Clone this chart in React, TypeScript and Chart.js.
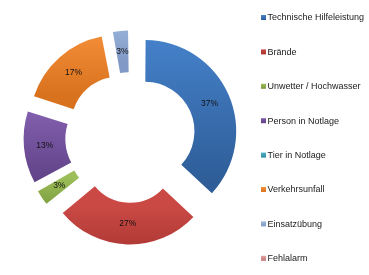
import React, { useEffect, useRef } from 'react';
import { Chart, registerables } from 'chart.js';

Chart.register(...registerables);

const categories = [
  'Technische Hilfeleistung',
  'Brände',
  'Unwetter / Hochwasser',
  'Person in Notlage',
  'Tier in Notlage',
  'Verkehrsunfall',
  'Einsatzübung',
  'Fehlalarm',
];
const values = [37, 27, 3, 13, 0, 17, 3, 0];
const topColors = ['#4581CA', '#CA4945', '#9DBF59', '#815EAC', '#4FB2CC', '#F7923C', '#9DB6DC', '#E3A3A1'];
const bottomColors = ['#2E5D97', '#A5332F', '#79993B', '#5F4286', '#33889E', '#D9721E', '#8099C6', '#C27674'];

const OUTER_R = 87;
const CUTOUT = 0.52;
const EXPLODE = 20;
const TOTAL = values.reduce((a, b) => a + b, 0);

function arcAngles(i: number) {
  let before = 0;
  for (let k = 0; k < i; k++) before += values[k];
  const start = -Math.PI / 2 + (2 * Math.PI * before) / TOTAL;
  const end = start + (2 * Math.PI * values[i]) / TOTAL;
  return { start, end };
}

function offsetFor(i: number) {
  const circ = (2 * Math.PI * values[i]) / TOTAL;
  const fix = 1 - Math.sin(Math.min(Math.PI, circ));
  return (4 * EXPLODE) / (1 + fix);
}

function gradientFor(context: any) {
  const i = context.dataIndex;
  const chart = context.chart;
  const area = chart.chartArea;
  if (!area || i === undefined) return topColors[i ?? 0];
  const cy = (area.top + area.bottom) / 2;
  const { start, end } = arcAngles(i);
  const mid = (start + end) / 2;
  const oy = cy + EXPLODE * Math.sin(mid);
  let minY = Infinity;
  let maxY = -Infinity;
  const inner = OUTER_R * CUTOUT;
  for (let s = 0; s <= 24; s++) {
    const a = start + ((end - start) * s) / 24;
    for (const r of [inner, OUTER_R]) {
      const y = oy + r * Math.sin(a);
      minY = Math.min(minY, y);
      maxY = Math.max(maxY, y);
    }
  }
  if (!isFinite(minY) || maxY - minY < 1) return topColors[i];
  const g = chart.ctx.createLinearGradient(0, minY, 0, maxY);
  g.addColorStop(0, topColors[i]);
  g.addColorStop(1, bottomColors[i]);
  return g;
}

const labelPlugin = {
  id: 'sliceLabels',
  afterDatasetsDraw(chart: any) {
    const ctx = chart.ctx;
    const meta = chart.getDatasetMeta(0);
    ctx.save();
    ctx.font = '8.5px "Liberation Sans", Arial, sans-serif';
    ctx.fillStyle = '#111111';
    ctx.textAlign = 'center';
    ctx.textBaseline = 'middle';
    meta.data.forEach((el: any, i: number) => {
      if (!values[i]) return;
      const p = el.getProps(['x', 'y', 'startAngle', 'endAngle', 'innerRadius', 'outerRadius'], true);
      const mid = (p.startAngle + p.endAngle) / 2;
      const r = (p.innerRadius + p.outerRadius) / 2 + EXPLODE;
      const pct = Math.round((values[i] / TOTAL) * 100) + '%';
      ctx.fillText(pct, p.x + r * Math.cos(mid), p.y + r * Math.sin(mid));
    });
    ctx.restore();
  },
};

const legendPlugin = {
  id: 'sideLegend',
  afterDraw(chart: any) {
    const ctx = chart.ctx;
    ctx.save();
    ctx.font = '9px "Liberation Sans", Arial, sans-serif';
    ctx.textBaseline = 'middle';
    ctx.textAlign = 'left';
    categories.forEach((c, i) => {
      const y = 17.5 + i * 34.4;
      const g = ctx.createLinearGradient(0, y - 2.5, 0, y + 2.5);
      g.addColorStop(0, topColors[i]);
      g.addColorStop(1, bottomColors[i]);
      ctx.fillStyle = g;
      ctx.fillRect(261, y - 2.5, 5, 5);
      ctx.fillStyle = '#1a1a1a';
      ctx.fillText(c, 267.5, y + 0.5);
    });
    ctx.restore();
  },
};

export default function App() {
  const ref = useRef<HTMLCanvasElement | null>(null);
  useEffect(() => {
    if (!ref.current) return;
    const chart = new Chart(ref.current, {
      type: 'doughnut',
      data: {
        labels: categories,
        datasets: [
          {
            data: values,
            backgroundColor: gradientFor as any,
            borderWidth: 0,
            offset: ((c: any) => offsetFor(c.dataIndex)) as any,
            hoverOffset: 0,
          },
        ],
      },
      options: {
        responsive: false,
        animation: false,
        radius: OUTER_R,
        cutout: CUTOUT * 100 + '%',
        layout: { padding: { left: 0, right: 108, top: 0, bottom: 0 } },
        plugins: {
          legend: { display: false },
          tooltip: { enabled: false },
        },
      } as any,
      plugins: [labelPlugin, legendPlugin],
    });
    return () => chart.destroy();
  }, []);
  return (
    <div style={{ position: 'absolute', left: 0, top: 0, width: 369, height: 275, background: '#ffffff' }}>
      <canvas ref={ref} width={369} height={275} style={{ width: 369, height: 275, display: 'block' }} />
    </div>
  );
}
